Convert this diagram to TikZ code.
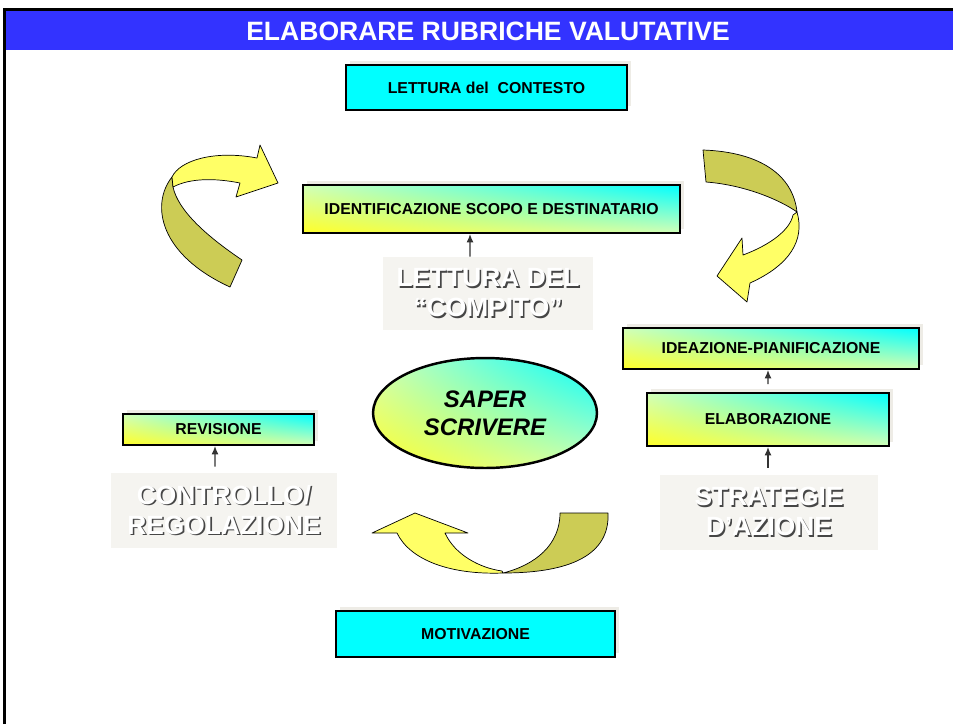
\documentclass[tikz,border=0pt]{standalone}
\usepackage{fontspec}
\setmainfont{Liberation Sans}
\usetikzlibrary{shapes}
\usetikzlibrary{shadows}
\usetikzlibrary{shadings}
\usetikzlibrary{arrows.meta}

\definecolor{titleblue}{RGB}{51,51,255}
\definecolor{boxcyan}{RGB}{0,255,255}
\definecolor{boxyellow}{RGB}{255,255,40}
\definecolor{boxmid}{RGB}{210,255,185}
\definecolor{boxgray}{RGB}{245,244,240}
\definecolor{shadowgray}{RGB}{238,236,230}
\definecolor{ribbonfront}{RGB}{255,255,102}
\definecolor{ribbonback}{RGB}{204,204,85}
\definecolor{embossdark}{RGB}{70,70,70}

\newcommand{\rilievo}[1]{\rlap{\kern0.9pt\raisebox{-0.9pt}{\textcolor{embossdark}{#1}}}\textcolor{white}{#1}}

\tikzset{
  box/.style = {shape=rectangle, draw, line width=1.1pt, inner sep=0pt,
                font=\bfseries\fontsize{9}{11}\selectfont,
                general shadow={fill=shadowgray, shadow xshift=0.08cm, shadow yshift=0.08cm}},
  plainbox/.style = {box, fill=boxcyan},
  gradbox/.style = {box, lower left=boxyellow, upper right=boxcyan, upper left=boxmid, lower right=boxmid},
  graybox/.style = {shape=rectangle, fill=boxgray, inner sep=0pt, align=center,
                    font=\bfseries\fontsize{15}{17}\selectfont},
  ribbon/.style = {draw=black, line width=0.4pt, line join=round},
  pfeil/.style = {-{Latex[length=0.17cm, width=0.14cm]}, line width=0.7pt, draw=black!80}
}

\begin{document}
\begin{tikzpicture}[x=0.02cm, y=-0.02cm]
	\useasboundingbox (0,0) rectangle (953,724);
	
	\fill[titleblue] (5,11) rectangle (953,50);
	\draw[line width=1.2pt] (4.5,724) -- (4.5,9.5) -- (953,9.5);
	\node (v9) at (488,31) [text=white, font=\bfseries\fontsize{15.1}{18}\selectfont] {ELABORARE RUBRICHE VALUTATIVE};
	
	% ribbons
	\filldraw[ribbon, fill=ribbonback] (172,177) .. controls (150,205) and (160,255) .. (230,287) -- (242,260) .. controls (205,235) and (178,210) .. (173,187) -- cycle;
	\filldraw[ribbon, fill=ribbonfront] (172,177) .. controls (180,160) and (215,150) .. (257,158) -- (260,145) -- (278,183) -- (236,197) -- (240,183) .. controls (215,178) and (190,178) .. (173,187) -- cycle;
	
	\filldraw[ribbon, fill=ribbonback] (703,150) .. controls (760,152) and (793,175) .. (797,212) .. controls (780,200) and (745,185) .. (706,182) -- cycle;
	\filldraw[ribbon, fill=ribbonfront] (797,212) .. controls (805,240) and (790,265) .. (750,283) -- (747,302) -- (717,276) -- (742,238) -- (743,255) .. controls (770,245) and (790,230) .. (793,215) -- cycle;
	
	\filldraw[ribbon, fill=ribbonback] (560,513) -- (608,513) .. controls (610,555) and (570,573) .. (503,573) .. controls (535,565) and (560,545) .. (560,513) -- cycle;
	\filldraw[ribbon, fill=ribbonfront] (503,573) .. controls (450,575) and (410,560) .. (397,533) -- (372,533) -- (415,513) -- (468,533) -- (445,533) .. controls (455,555) and (480,568) .. (502,571) -- cycle;
	
	\node (v1) at (486.5,87.5) [plainbox, minimum width=5.62cm, minimum height=0.9cm] {LETTURA del~~CONTESTO};
	\node (v2) at (491.5,209) [gradbox, minimum width=7.54cm, minimum height=0.96cm] {IDENTIFICAZIONE SCOPO E DESTINATARIO};
	\node (v3) at (488,293.5) [graybox, minimum width=4.2cm, minimum height=1.46cm] {\rilievo{LETTURA DEL}\\\rilievo{“COMPITO”}};
	\node (v0) at (485,413) [shape=ellipse, draw, line width=1.4pt, lower left=boxyellow, upper right=boxcyan, upper left=boxmid, lower right=boxmid, minimum width=4.48cm, minimum height=2.2cm, align=center, font=\bfseries\itshape\fontsize{13.6}{16}\selectfont] {SAPER\\SCRIVERE};
	\node (v4) at (771,348.5) [gradbox, minimum width=5.92cm, minimum height=0.82cm] {IDEAZIONE-PIANIFICAZIONE};
	\node (v5) at (768,419.5) [gradbox, minimum width=4.84cm, minimum height=1.06cm] {ELABORAZIONE};
	\node (v6) at (769,512.5) [graybox, minimum width=4.36cm, minimum height=1.5cm] {\rilievo{STRATEGIE}\\\rilievo{D’AZIONE}};
	\node (v7) at (218.5,429.5) [gradbox, minimum width=3.82cm, minimum height=0.62cm] {REVISIONE};
	\node (v8) at (224,510.5) [graybox, minimum width=4.52cm, minimum height=1.5cm] {\rilievo{CONTROLLO/}\\\rilievo{REGOLAZIONE}};
	\node (v10) at (475.5,634) [plainbox, minimum width=5.58cm, minimum height=0.92cm] {MOTIVAZIONE};
	
	\draw[pfeil] ([xshift=-0.36cm]v3.north) -- ([xshift=-0.43cm]v2.south);
	\draw[pfeil] ([yshift=0.16cm]v5.north) -- ([xshift=-0.06cm]v4.south);
	\draw[pfeil] ([xshift=-0.02cm,yshift=0.14cm]v6.north) -- (v5.south);
	\draw[pfeil] ([xshift=-0.18cm,yshift=0.12cm]v8.north) -- ([xshift=-0.07cm]v7.south);
\end{tikzpicture}
\end{document}
